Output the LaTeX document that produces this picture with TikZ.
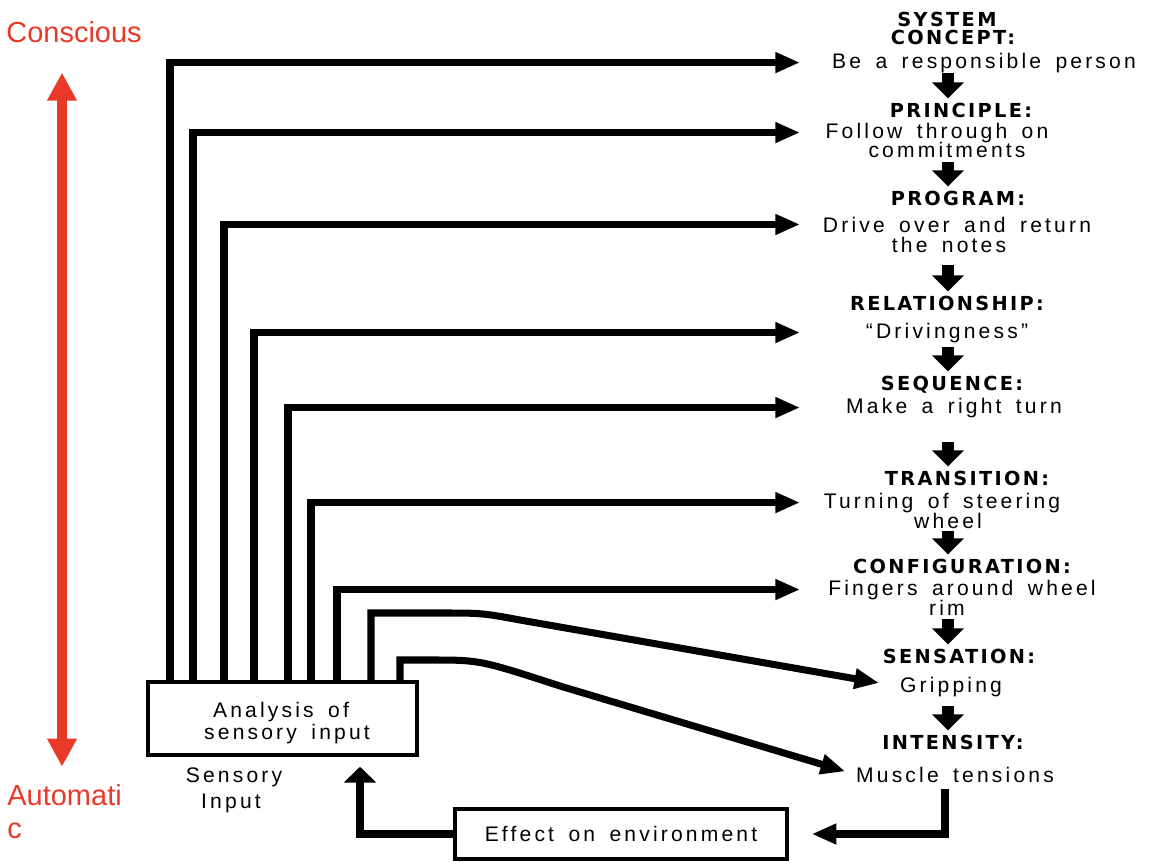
\documentclass[tikz,border=0pt]{standalone}
\usepackage{fontspec}
\setmainfont{Liberation Sans}
\newfontfamily\typedfont[LetterSpace=15,WordSpace=1.6]{Liberation Sans}
\newfontfamily\headfont[LetterSpace=12]{DejaVu Sans}
\usetikzlibrary{arrows.meta,calc}
\definecolor{levelred}{RGB}{233,57,41}
\newcommand{\txtfont}{\typedfont\fontsize{12}{12.5}\selectfont}
\newcommand{\hdfont}{\headfont\bfseries\fontsize{11}{13}\selectfont}
\newcommand{\redfont}{\fontsize{16.5}{19}\selectfont}

\begin{document}
\begin{tikzpicture}[x=0.02cm, y=-0.02cm,
	txt/.style={inner sep=0pt, anchor=base, font=\txtfont},
	head/.style={inner sep=0pt, anchor=base, font=\hdfont},
	redtxt/.style={inner sep=0pt, anchor=base west, font=\redfont, text=levelred},
	fb/.style={line width=4pt, -{Triangle[length=14pt,width=11pt]}},
	levelarrow/.style={line width=6.5pt, -{Triangle[length=9pt,width=17.5pt]}, shorten >=0.08cm},
	sysbox/.style={draw, line width=2pt, inner sep=0pt, font=\txtfont}]
		%%%%% START %%%%%
		
		\useasboundingbox (0,0) rectangle (1150,862);
		
		% conscious / automatic scale
		\node[redtxt] (con) at (6,42) {Conscious};
		\node[redtxt] (auto1) at (7,805) {Automati};
		\node[redtxt] (auto2) at (7,838) {c};
		\draw[line width=5.7pt, levelred, {Triangle[length=16pt,width=16pt]}-{Triangle[length=16pt,width=16pt]},
			shorten <=0.6cm, shorten >=0.34cm] (con.south -| 62,0) -- (auto1.north -| 62,0);
		
		% hierarchy of levels
		\node[head] (sysh1) at (947,27) {SYSTEM};
		\node[head] (sysh2) at (953,44) {CONCEPT:};
		\node[txt] (sysb) at (984,68) {Be a responsible person};
		
		\node[head] (prinh) at (961,117) {PRINCIPLE:};
		\node[txt] (prinb1) at (937,138) {Follow through on};
		\node[txt] (prinb2) at (947,157) {commitments};
		
		\node[head] (progh) at (958,205) {PROGRAM:};
		\node[txt] (progb1) at (957,232) {Drive over and return};
		\node[txt] (progb2) at (949,252) {the notes};
		
		\node[head] (relh) at (947,310) {RELATIONSHIP:};
		\node[txt] (relb) at (947,338) {“Drivingness”};
		
		\node[head] (seqh) at (952,390) {SEQUENCE:};
		\node[txt] (seqb) at (954,413) {Make a right turn};
		
		\node[head] (transh) at (967,485) {TRANSITION:};
		\node[txt] (transb1) at (942,508) {Turning of steering};
		\node[txt] (transb2) at (948,528) {wheel};
		
		\node[head] (confh) at (962,573) {CONFIGURATION:};
		\node[txt] (confb1) at (962,595) {Fingers around wheel};
		\node[txt] (confb2) at (947,615) {rim};
		
		\node[head] (sensh) at (959,663) {SENSATION:};
		\node[txt] (sensb) at (951,692) {Gripping};
		
		\node[head] (intenh) at (953,749) {INTENSITY:};
		\node[txt] (intenb) at (955,782) {Muscle tensions};
		
		\coordinate (col) at (948,0);
		\foreach \a/\b/\s in {sysb/prinh/0, prinb2/progh/4, progb2/relh/12, relb/seqh/4,
				seqb/transh/24, transb2/confh/2, confb2/sensh/4, sensb/intenh/9}
			\draw[levelarrow, shorten <=\s*0.02cm] (\a.south -| col) -- (\b.north -| col);
		
		% analysis and environment
		\node[sysbox, minimum width=5.38cm, minimum height=1.46cm] (ana) at (282.5,718.5) {};
		\node[txt] (ana1) at (281,717) {Analysis of};
		\node[txt] (ana2) at (287,739) {sensory input};
		\node[txt] (inp1) at (234,782) {Sensory};
		\node[txt] (inp2) at (231,808) {Input};
		\node[sysbox, minimum width=6.64cm, minimum height=1cm] (eff) at (621,834) {Effect on environment};
		
		% feedback to the levels
		\coordinate (tip) at (800,0);
		\foreach \x/\n in {170/sysb, 193/prinb1, 224/progb1, 254/relb, 288/seqb, 311/transb1, 337/confb1}
			\draw[fb] (ana.north -| \x,0) |- (\n.west -| tip);
		\draw[fb, shorten >=0.42cm] (ana.north -| 371,0) |- (440,613) .. controls (482,613) .. (520,620) -- (sensb.west);
		\draw[fb, shorten >=0.22cm] (ana.north -| 400,0) |- (430,660) .. controls (480,660) .. (560,686) -- (intenb.west);
		
		% loop through the environment
		\draw[fb, shorten <=0.12cm, shorten >=0.46cm] (intenb.south -| 945,0) |- (eff.east);
		\draw[fb, -{Triangle[length=9pt,width=18pt]}, shorten >=0.2cm] (eff.west) -| (ana.south -| 360,0);
		
		%%%%% END %%%%%
\end{tikzpicture}
\end{document}
